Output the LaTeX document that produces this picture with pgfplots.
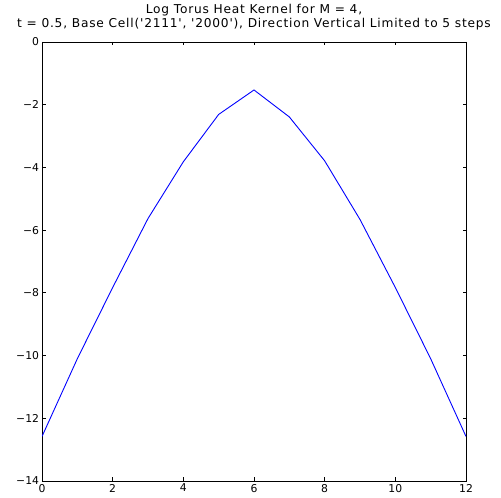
\documentclass[border=0pt]{standalone}
\usepackage{fontspec}
\setmainfont{DejaVu Sans}[Ligatures=TeXOff]
\usepackage{pgfplots}
\pgfplotsset{compat=1.18}
\begin{document}
\begin{tikzpicture}
\useasboundingbox (-42bp,-17bp) rectangle (459bp,481bp);
\begin{axis}[
  at={(0,0)}, anchor=south west,
  scale only axis, width=424bp, height=439bp,
  xmin=0, xmax=12, ymin=-14, ymax=0,
  xtick={0,2,...,12}, ytick={-14,-12,...,0},
  tick align=inside, tick pos=both,
  major tick length=3.5bp,
  axis line style={line width=0.9bp},
  every tick/.style={black, line width=0.8bp},
  /pgf/number format/assume math mode=true,
  tick label style={font=\fontsize{10.8bp}{12bp}\selectfont},
  xticklabel style={inner sep=0pt, outer sep=0pt, yshift=-3bp},
  yticklabel style={inner sep=0pt, outer sep=0pt, xshift=-3bp},
  xticklabel={\pgfmathprintnumber{\tick}},
  yticklabel={\ifdim\tick pt<0pt \char"2212\pgfmathparse{-\tick}\pgfmathprintnumber{\pgfmathresult}\else\pgfmathprintnumber{\tick}\fi},
  title={Log Torus Heat Kernel for M = 4,\\t = 0.5, Base Cell('2111', '2000'), Direction Vertical Limited to 5 steps},
  title style={font=\fontsize{12.2bp}{13.9bp}\selectfont\addfontfeature{LetterSpace=6.5}, align=center, at={(0.5,1)}, anchor=south, inner sep=0pt, yshift=5.6bp},
]
\addplot[color={rgb,1:red,0;green,0;blue,1}, line width=0.9bp] coordinates {
(0,-12.58) (1,-10.10) (2,-7.83) (3,-5.63) (4,-3.82) (5,-2.31) (6,-1.53)
(7,-2.39) (8,-3.79) (9,-5.66) (10,-7.83) (11,-10.10) (12,-12.58)
};
\end{axis}
\end{tikzpicture}
\end{document}
